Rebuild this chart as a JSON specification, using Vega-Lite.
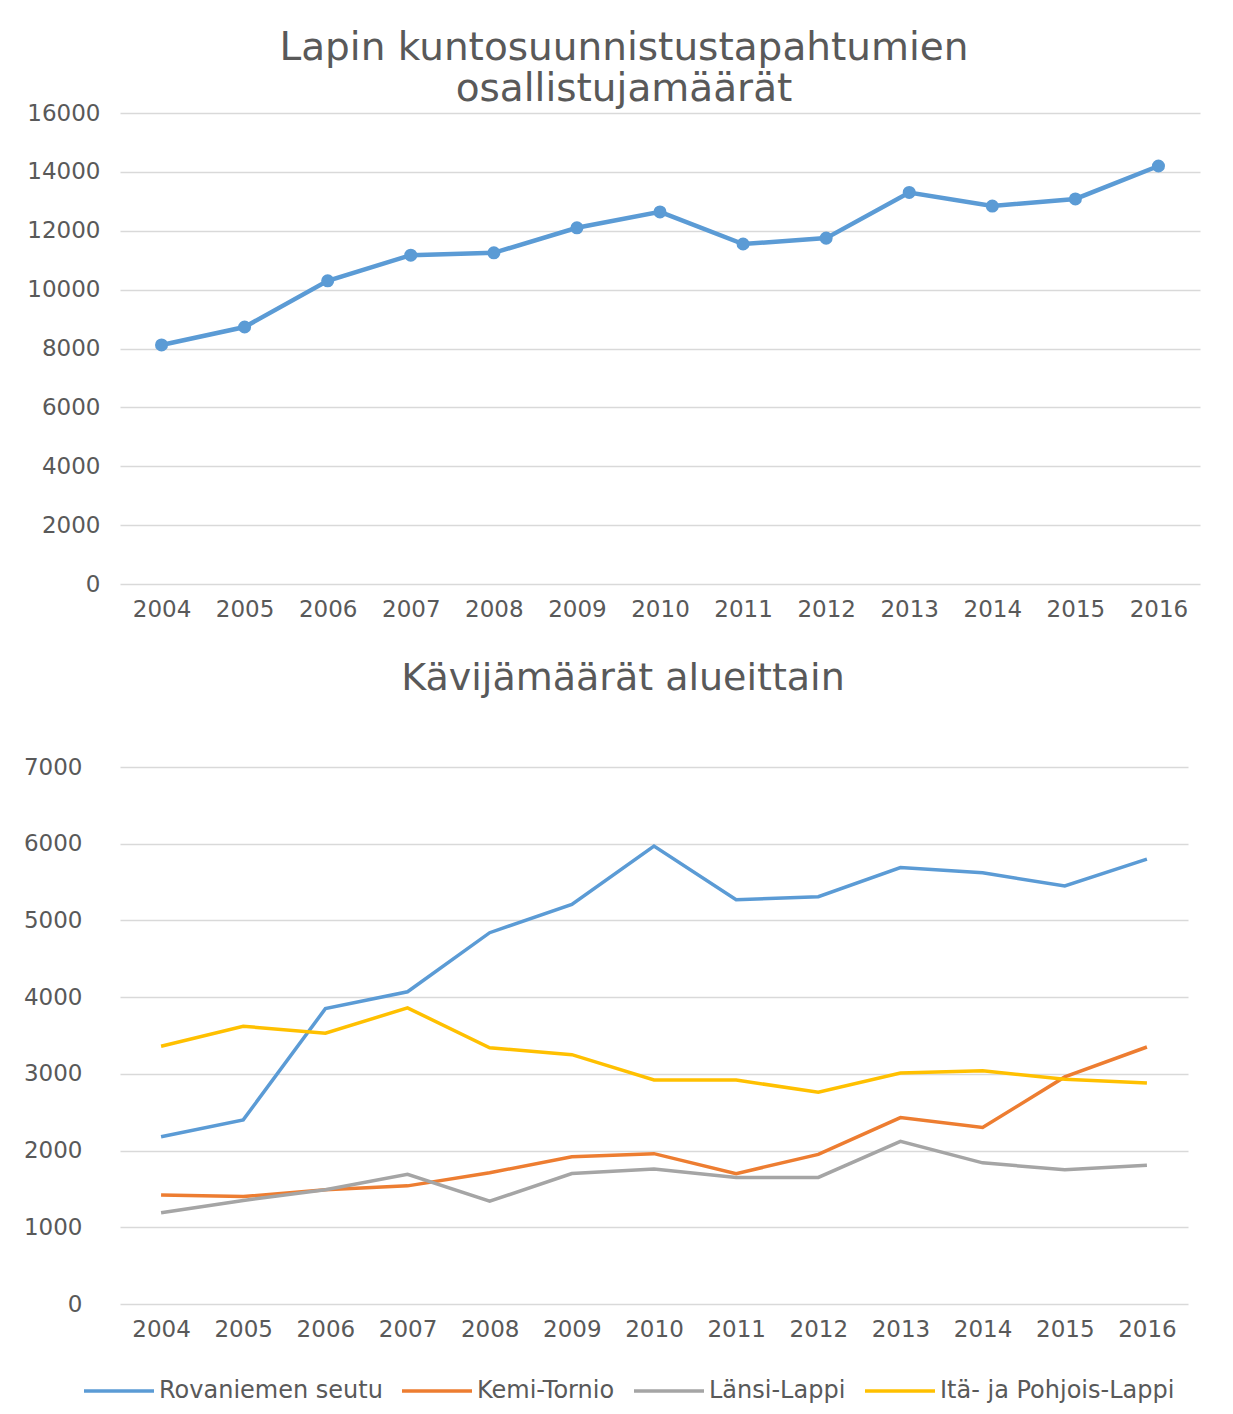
{
  "$schema": "https://vega.github.io/schema/vega-lite/v6.json",
  "padding": {"left": 23, "top": 29, "right": 5, "bottom": 5},
  "background": "white",
  "spacing": 39,
  "config": {
    "font": "DejaVu Sans",
    "view": {"stroke": null},
    "axis": {"labelColor": "#595959", "labelFont": "DejaVu Sans", "gridColor": "#d9d9d9", "gridWidth": 1.5, "domain": false, "ticks": false, "title": null},
    "title": {"color": "#595959", "font": "DejaVu Sans", "fontWeight": "normal"}
  },
  "vconcat": [
    {
      "width": 1080,
      "height": 471,
      "title": {"text": ["Lapin kuntosuunnistustapahtumien", "osallistujamäärät"], "fontSize": 39, "lineHeight": 41, "offset": -7, "dx": -36},
      "data": {"values": [
        {"vuosi": "2004", "osallistujat": 8120},
        {"vuosi": "2005", "osallistujat": 8730},
        {"vuosi": "2006", "osallistujat": 10300},
        {"vuosi": "2007", "osallistujat": 11170},
        {"vuosi": "2008", "osallistujat": 11250},
        {"vuosi": "2009", "osallistujat": 12100},
        {"vuosi": "2010", "osallistujat": 12640},
        {"vuosi": "2011", "osallistujat": 11550},
        {"vuosi": "2012", "osallistujat": 11750},
        {"vuosi": "2013", "osallistujat": 13300},
        {"vuosi": "2014", "osallistujat": 12840},
        {"vuosi": "2015", "osallistujat": 13080},
        {"vuosi": "2016", "osallistujat": 14200}
      ]},
      "mark": {"type": "line", "color": "#5B9BD5", "strokeWidth": 4.5, "point": {"filled": true, "size": 170, "color": "#5B9BD5"}},
      "encoding": {
        "x": {"field": "vuosi", "type": "ordinal", "scale": {"type": "point", "padding": 0.5}, "axis": {"labelAngle": 0, "labelFontSize": 23, "labelPadding": 14, "grid": false}},
        "y": {"field": "osallistujat", "type": "quantitative", "scale": {"domain": [0, 16000]}, "axis": {"values": [0, 2000, 4000, 6000, 8000, 10000, 12000, 14000, 16000], "format": "d", "labelFontSize": 23, "labelPadding": 20}}
      }
    },
    {
      "width": 1068,
      "height": 537,
      "title": {"text": "Kävijämäärät alueittain", "fontSize": 38, "offset": 58, "dx": -31},
      "data": {"values": [
        {"vuosi": "2004", "alue": "Rovaniemen seutu", "kavijat": 2180},
        {"vuosi": "2005", "alue": "Rovaniemen seutu", "kavijat": 2400},
        {"vuosi": "2006", "alue": "Rovaniemen seutu", "kavijat": 3850},
        {"vuosi": "2007", "alue": "Rovaniemen seutu", "kavijat": 4070},
        {"vuosi": "2008", "alue": "Rovaniemen seutu", "kavijat": 4840},
        {"vuosi": "2009", "alue": "Rovaniemen seutu", "kavijat": 5210},
        {"vuosi": "2010", "alue": "Rovaniemen seutu", "kavijat": 5970},
        {"vuosi": "2011", "alue": "Rovaniemen seutu", "kavijat": 5270},
        {"vuosi": "2012", "alue": "Rovaniemen seutu", "kavijat": 5310},
        {"vuosi": "2013", "alue": "Rovaniemen seutu", "kavijat": 5690},
        {"vuosi": "2014", "alue": "Rovaniemen seutu", "kavijat": 5620},
        {"vuosi": "2015", "alue": "Rovaniemen seutu", "kavijat": 5450},
        {"vuosi": "2016", "alue": "Rovaniemen seutu", "kavijat": 5800},
        {"vuosi": "2004", "alue": "Kemi-Tornio", "kavijat": 1420},
        {"vuosi": "2005", "alue": "Kemi-Tornio", "kavijat": 1400},
        {"vuosi": "2006", "alue": "Kemi-Tornio", "kavijat": 1490},
        {"vuosi": "2007", "alue": "Kemi-Tornio", "kavijat": 1540},
        {"vuosi": "2008", "alue": "Kemi-Tornio", "kavijat": 1710},
        {"vuosi": "2009", "alue": "Kemi-Tornio", "kavijat": 1920},
        {"vuosi": "2010", "alue": "Kemi-Tornio", "kavijat": 1960},
        {"vuosi": "2011", "alue": "Kemi-Tornio", "kavijat": 1700},
        {"vuosi": "2012", "alue": "Kemi-Tornio", "kavijat": 1950},
        {"vuosi": "2013", "alue": "Kemi-Tornio", "kavijat": 2430},
        {"vuosi": "2014", "alue": "Kemi-Tornio", "kavijat": 2300},
        {"vuosi": "2015", "alue": "Kemi-Tornio", "kavijat": 2960},
        {"vuosi": "2016", "alue": "Kemi-Tornio", "kavijat": 3350},
        {"vuosi": "2004", "alue": "Länsi-Lappi", "kavijat": 1190},
        {"vuosi": "2005", "alue": "Länsi-Lappi", "kavijat": 1350},
        {"vuosi": "2006", "alue": "Länsi-Lappi", "kavijat": 1490},
        {"vuosi": "2007", "alue": "Länsi-Lappi", "kavijat": 1690},
        {"vuosi": "2008", "alue": "Länsi-Lappi", "kavijat": 1340},
        {"vuosi": "2009", "alue": "Länsi-Lappi", "kavijat": 1700},
        {"vuosi": "2010", "alue": "Länsi-Lappi", "kavijat": 1760},
        {"vuosi": "2011", "alue": "Länsi-Lappi", "kavijat": 1650},
        {"vuosi": "2012", "alue": "Länsi-Lappi", "kavijat": 1650},
        {"vuosi": "2013", "alue": "Länsi-Lappi", "kavijat": 2120},
        {"vuosi": "2014", "alue": "Länsi-Lappi", "kavijat": 1840},
        {"vuosi": "2015", "alue": "Länsi-Lappi", "kavijat": 1750},
        {"vuosi": "2016", "alue": "Länsi-Lappi", "kavijat": 1810},
        {"vuosi": "2004", "alue": "Itä- ja Pohjois-Lappi", "kavijat": 3360},
        {"vuosi": "2005", "alue": "Itä- ja Pohjois-Lappi", "kavijat": 3620},
        {"vuosi": "2006", "alue": "Itä- ja Pohjois-Lappi", "kavijat": 3530},
        {"vuosi": "2007", "alue": "Itä- ja Pohjois-Lappi", "kavijat": 3860},
        {"vuosi": "2008", "alue": "Itä- ja Pohjois-Lappi", "kavijat": 3340},
        {"vuosi": "2009", "alue": "Itä- ja Pohjois-Lappi", "kavijat": 3250},
        {"vuosi": "2010", "alue": "Itä- ja Pohjois-Lappi", "kavijat": 2920},
        {"vuosi": "2011", "alue": "Itä- ja Pohjois-Lappi", "kavijat": 2920},
        {"vuosi": "2012", "alue": "Itä- ja Pohjois-Lappi", "kavijat": 2760},
        {"vuosi": "2013", "alue": "Itä- ja Pohjois-Lappi", "kavijat": 3010},
        {"vuosi": "2014", "alue": "Itä- ja Pohjois-Lappi", "kavijat": 3040},
        {"vuosi": "2015", "alue": "Itä- ja Pohjois-Lappi", "kavijat": 2930},
        {"vuosi": "2016", "alue": "Itä- ja Pohjois-Lappi", "kavijat": 2880}
      ]},
      "mark": {"type": "line", "strokeWidth": 3.5},
      "encoding": {
        "x": {"field": "vuosi", "type": "ordinal", "scale": {"type": "point", "padding": 0.5}, "axis": {"labelAngle": 0, "labelFontSize": 23, "labelPadding": 14, "grid": false}},
        "y": {"field": "kavijat", "type": "quantitative", "scale": {"domain": [0, 7000]}, "axis": {"values": [0, 1000, 2000, 3000, 4000, 5000, 6000, 7000], "format": "d", "labelFontSize": 23, "labelPadding": 38}},
        "color": {"field": "alue", "type": "nominal",
          "scale": {"domain": ["Rovaniemen seutu", "Kemi-Tornio", "Länsi-Lappi", "Itä- ja Pohjois-Lappi"], "range": ["#5B9BD5", "#ED7D31", "#A5A5A5", "#FFC000"]},
          "legend": {"orient": "none", "legendX": -38, "legendY": 1241, "direction": "horizontal", "title": null, "labelFontSize": 24, "labelLimit": 500, "labelColor": "#595959", "symbolType": "stroke", "symbolSize": 4900, "symbolStrokeWidth": 3.5, "labelOffset": 3, "columnPadding": 12}
        }
      }
    }
  ]
}
